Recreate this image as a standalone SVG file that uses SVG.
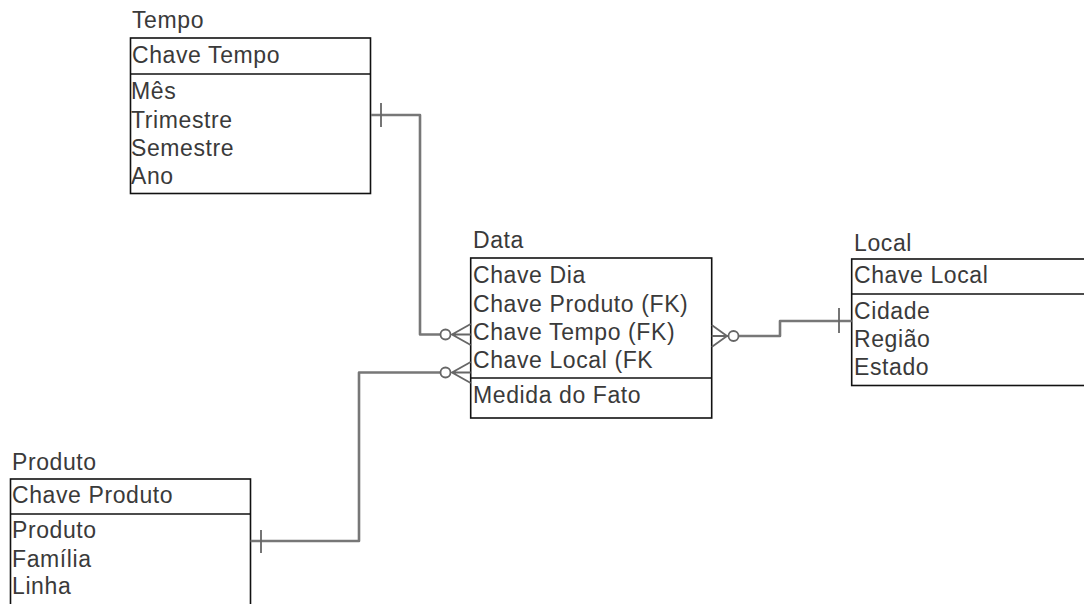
<svg xmlns="http://www.w3.org/2000/svg" width="1084" height="604" viewBox="0 0 1084 604">
<style>
text{font-family:"Liberation Sans",Arial,sans-serif;font-size:23px;letter-spacing:0.6px;fill:#3a3a3a}
.box{fill:#fff;stroke:#111;stroke-width:1.6}
.div{stroke:#111;stroke-width:1.6}
.c{fill:none;stroke:#777;stroke-width:2.6;stroke-linejoin:round}
.cf{fill:#fff;stroke:#666;stroke-width:1.8}
.ft{fill:none;stroke:#666;stroke-width:1.8}
</style>
<rect width="1084" height="604" fill="#fff"/>
<g id="tempo">
<text x="132" y="28">Tempo</text>
<rect class="box" x="130.5" y="38" width="240" height="155.5"/>
<line class="div" x1="130.5" y1="74" x2="370.5" y2="74"/>
<text x="132" y="63">Chave Tempo</text>
<text x="131" y="99">Mês</text>
<text x="131" y="127.5">Trimestre</text>
<text x="131" y="156">Semestre</text>
<text x="131" y="183.5">Ano</text>
</g>
<g id="data">
<text x="473" y="248">Data</text>
<rect class="box" x="470.7" y="258" width="241" height="160"/>
<line class="div" x1="470.7" y1="378" x2="711.7" y2="378"/>
<text x="473" y="283">Chave Dia</text>
<text x="473" y="311.5">Chave Produto (FK)</text>
<text x="473" y="339.5">Chave Tempo (FK)</text>
<text x="473" y="367.5">Chave Local (FK</text>
<text x="473" y="403">Medida do Fato</text>
</g>
<g id="local">
<text x="854" y="251">Local</text>
<rect class="box" x="851.7" y="259" width="240" height="126.5"/>
<line class="div" x1="851.7" y1="294" x2="1091.7" y2="294"/>
<text x="854" y="283">Chave Local</text>
<text x="854" y="319">Cidade</text>
<text x="854" y="347">Região</text>
<text x="854" y="375">Estado</text>
</g>
<g id="produto">
<text x="12" y="470">Produto</text>
<rect class="box" x="10.5" y="479" width="240" height="140"/>
<line class="div" x1="10.5" y1="514" x2="250.5" y2="514"/>
<text x="12" y="503">Chave Produto</text>
<text x="12" y="538">Produto</text>
<text x="12" y="566.5">Família</text>
<text x="12" y="594">Linha</text>
</g>
<g id="connectors">
<path class="c" d="M371 115 H420 V334.5 H440.5"/>
<line class="ft" x1="381" y1="103" x2="381" y2="127"/>
<circle class="cf" cx="445.5" cy="334.5" r="5"/>
<path class="ft" d="M470.7 324 L452 334.5 L470.7 345 M452 334.5 H470.7"/>

<path class="c" d="M250.5 541 H359 V372.5 H440.5"/>
<line class="ft" x1="261" y1="530" x2="261" y2="553"/>
<circle class="cf" cx="445.5" cy="372.5" r="5"/>
<path class="ft" d="M470.7 362 L452 372.5 L470.7 383 M452 372.5 H470.7"/>

<path class="c" d="M738.5 336 H780 V321 H851.7"/>
<line class="ft" x1="839" y1="308" x2="839" y2="333"/>
<circle class="cf" cx="733.5" cy="336" r="5"/>
<path class="ft" d="M711.7 325 L727 336 L711.7 347 M711.7 336 H728.5"/>
</g>
</svg>
